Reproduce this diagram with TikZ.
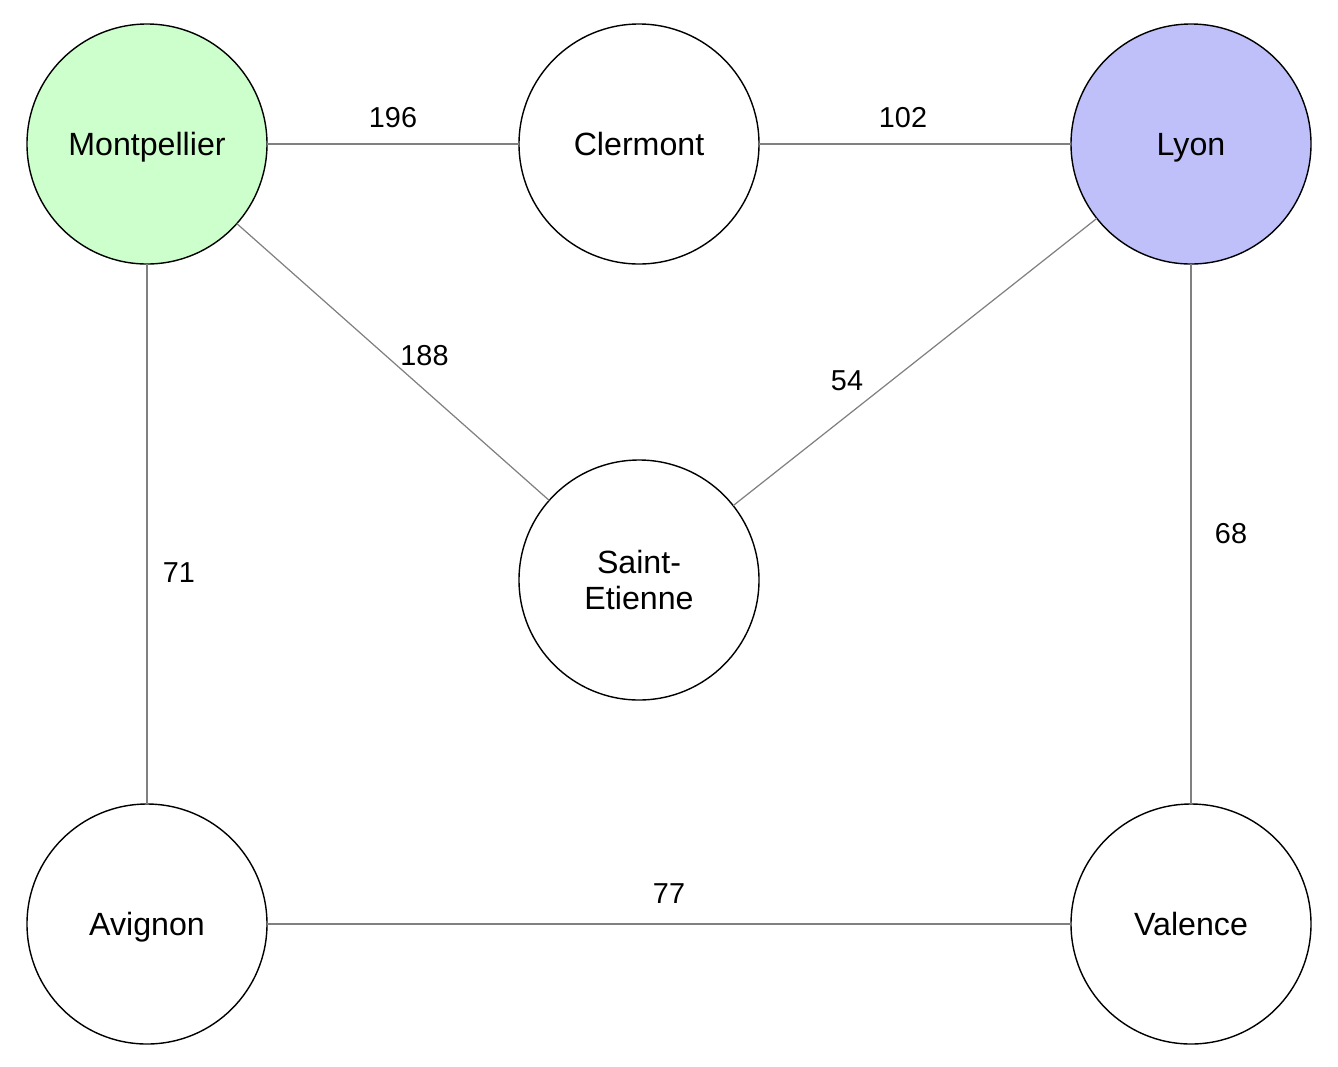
\documentclass[tikz,border=0pt]{standalone}
\usepackage{fontspec}
\setmainfont{Liberation Sans}
\usepackage{xcolor}
\usepackage{tikz}
\usetikzlibrary{positioning}

\definecolor{startgreen}{RGB}{204,255,204}
\definecolor{goalblue}{RGB}{191,192,249}

\begin{document}
\begin{tikzpicture}[
    town/.style={circle, draw=black, line width=0.8pt, fill=white, minimum size=4.8cm, inner sep=0pt, outer sep=0pt, align=center, font=\fontsize{18.3}{20.5}\selectfont},
    city/.style={town, text height=13.1pt, text depth=0pt},
    start/.style={city, fill=startgreen},
    goal/.style={city, fill=goalblue},
    road/.style={draw=gray, line width=0.7pt},
    weight/.style={font=\fontsize{16.4}{19}\selectfont, inner sep=0pt}
]
    \useasboundingbox (-2.94,2.88) rectangle (23.82,-18.44);

    % Cities
    \node[start] (mont) {Montpellier};
    \node[city, right=5.04cm of mont] (cler) {Clermont};
    \node[goal, right=6.24cm of cler] (lyon) {Lyon};
    \node[town, below=3.92cm of cler] (stet) {Saint-\\Etienne};
    \node[city, below=10.8cm of mont] (avig) {Avignon};
    \node[city, below=10.8cm of lyon] (vale) {Valence};

    % Roads
    \draw[road] (mont) -- node[weight, midway, yshift=0.52cm] {196} (cler);
    \draw[road] (cler) -- node[weight, midway, xshift=-0.24cm, yshift=0.52cm] {102} (lyon);
    \draw[road] (mont) -- node[weight, midway, xshift=0.63cm, yshift=0.12cm] {188} (stet);
    \draw[road] (lyon) -- node[weight, midway, xshift=-1.36cm, yshift=-0.38cm] {54} (stet);
    \draw[road] (mont) -- node[weight, midway, xshift=0.64cm, yshift=-0.78cm] {71} (avig);
    \draw[road] (lyon) -- node[weight, midway, xshift=0.8cm] {68} (vale);
    \draw[road] (avig) -- node[weight, midway, yshift=0.6cm] {77} (vale);
\end{tikzpicture}
\end{document}
